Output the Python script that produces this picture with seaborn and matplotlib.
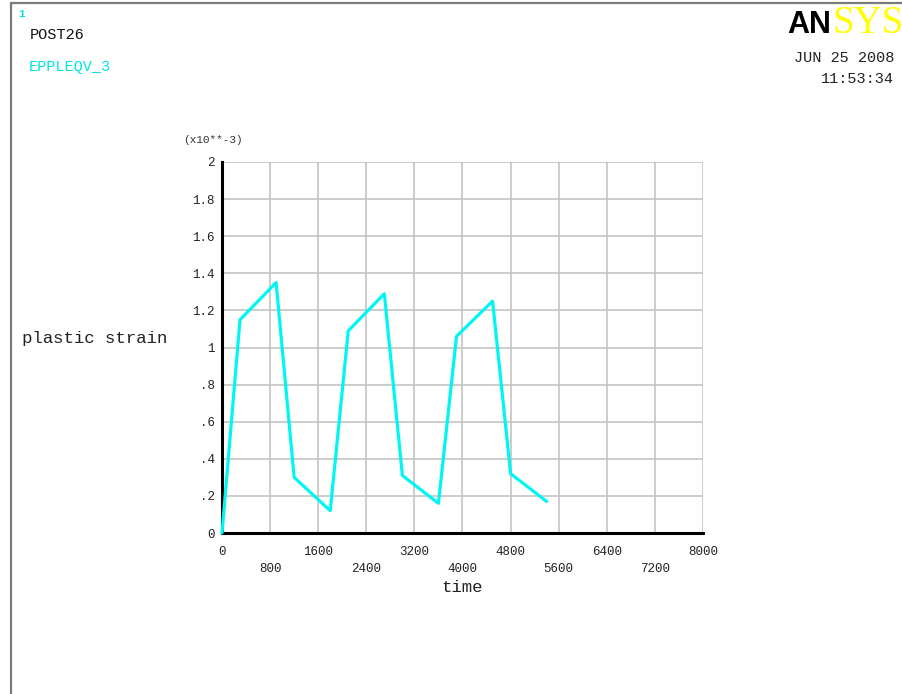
import matplotlib
matplotlib.use("Agg")
import matplotlib.pyplot as plt
from matplotlib.lines import Line2D
import seaborn as sns
import pandas as pd

# POST26 time-history of equivalent plastic strain (values in units of 1e-3)
time = [0, 300, 900, 1200, 1800, 2100, 2700, 3000, 3600, 3900, 4500, 4800, 5400]
strain = [0.0, 1.15, 1.35, 0.30, 0.12, 1.09, 1.29, 0.31, 0.16, 1.06, 1.25, 0.32, 0.17]

x_ticks = [0, 800, 1600, 2400, 3200, 4000, 4800, 5600, 6400, 7200, 8000]
y_ticks = [0, 0.2, 0.4, 0.6, 0.8, 1.0, 1.2, 1.4, 1.6, 1.8, 2.0]
y_tick_labels = ["0", ".2", ".4", ".6", ".8", "1", "1.2", "1.4", "1.6", "1.8", "2"]

df = pd.DataFrame({"time": time, "strain": strain})

sns.set_theme(style="white")
plt.rcParams["font.family"] = ["Liberation Mono", "DejaVu Sans Mono"]

W, H = 903, 694
fig = plt.figure(figsize=(W / 100, H / 100), dpi=100)
fig.patch.set_facecolor("white")

# plot area in pixel coordinates
x0, x1, ytop, ybot = 222, 703, 162, 533
ax = fig.add_axes([x0 / W, (H - ybot) / H, (x1 - x0) / W, (ybot - ytop) / H])
ax.set_facecolor("white")

grid_col = "#c4c4c4"
ax.set_xlim(0, 8000)
ax.set_ylim(0, 2)
ax.set_xticks(x_ticks)
ax.set_yticks(y_ticks)
ax.grid(True, color=grid_col, linewidth=1.2)
ax.set_axisbelow(True)

sns.lineplot(data=df, x="time", y="strain", sort=False, ax=ax,
             color="#00f5f5", linewidth=2.3, zorder=5, clip_on=False)

# staggered x tick labels
xlabels = [f"{t:d}" if i % 2 == 0 else f"\n{t:d}" for i, t in enumerate(x_ticks)]
ax.set_xticklabels(xlabels)
ax.set_yticklabels(y_tick_labels)
for lab in ax.get_xticklabels():
    lab.set_linespacing(1.5)
ax.tick_params(axis="x", direction="out", length=7.5, width=1.0, color=grid_col,
               pad=2, labelsize=9, labelcolor="#222222")
ax.tick_params(axis="y", direction="out", length=3, width=1.0, color=grid_col,
               pad=2, labelsize=9, labelcolor="#222222")
ax.set_xlabel("")
ax.set_ylabel("")

for side in ["top", "right"]:
    ax.spines[side].set_visible(False)
for side in ["left", "bottom"]:
    ax.spines[side].set_color("black")
    ax.spines[side].set_linewidth(2.2)
    ax.spines[side].set_zorder(4)


def ftext(px, py, s, **kw):
    fig.text(px / W, 1 - py / H, s, **kw)


# annotation texts
ftext(18, 14, "1", color="#00e0e0", fontsize=8, fontweight="bold", va="center", ha="left")
ftext(30, 35, "POST26", color="#111111", fontsize=11, va="center", ha="left")
ftext(29, 67, "EPPLEQV_3", color="#00e6e6", fontsize=11, va="center", ha="left")
ftext(894, 58, "JUN 25 2008", color="#222222", fontsize=11, va="center", ha="right")
ftext(894, 79, "11:53:34", color="#222222", fontsize=11, va="center", ha="right")
ftext(22, 339, "plastic strain", color="#222222", fontsize=12.5, va="center", ha="left")
ftext(462, 588, "time", color="#222222", fontsize=12.5, va="center", ha="center")
ftext(213, 140, "(x10**-3)", color="#333333", fontsize=8, va="center", ha="center")

# logo
ftext(787, 33, "AN", color="black", fontsize=22, fontweight="bold",
      family="Liberation Sans", va="baseline", ha="left")
ftext(832, 33, "SYS", color="#ffff00", fontsize=28,
      family="Liberation Serif", va="baseline", ha="left")

# outer frame
fig.add_artist(Line2D([11 / W, 11 / W], [0, 1 - 3 / H], transform=fig.transFigure,
                      color="#7a7a7a", linewidth=1.6))
fig.add_artist(Line2D([11 / W, 1], [1 - 3 / H, 1 - 3 / H], transform=fig.transFigure,
                      color="#7a7a7a", linewidth=1.6))

fig.savefig("out.png", dpi=100, facecolor="white")
